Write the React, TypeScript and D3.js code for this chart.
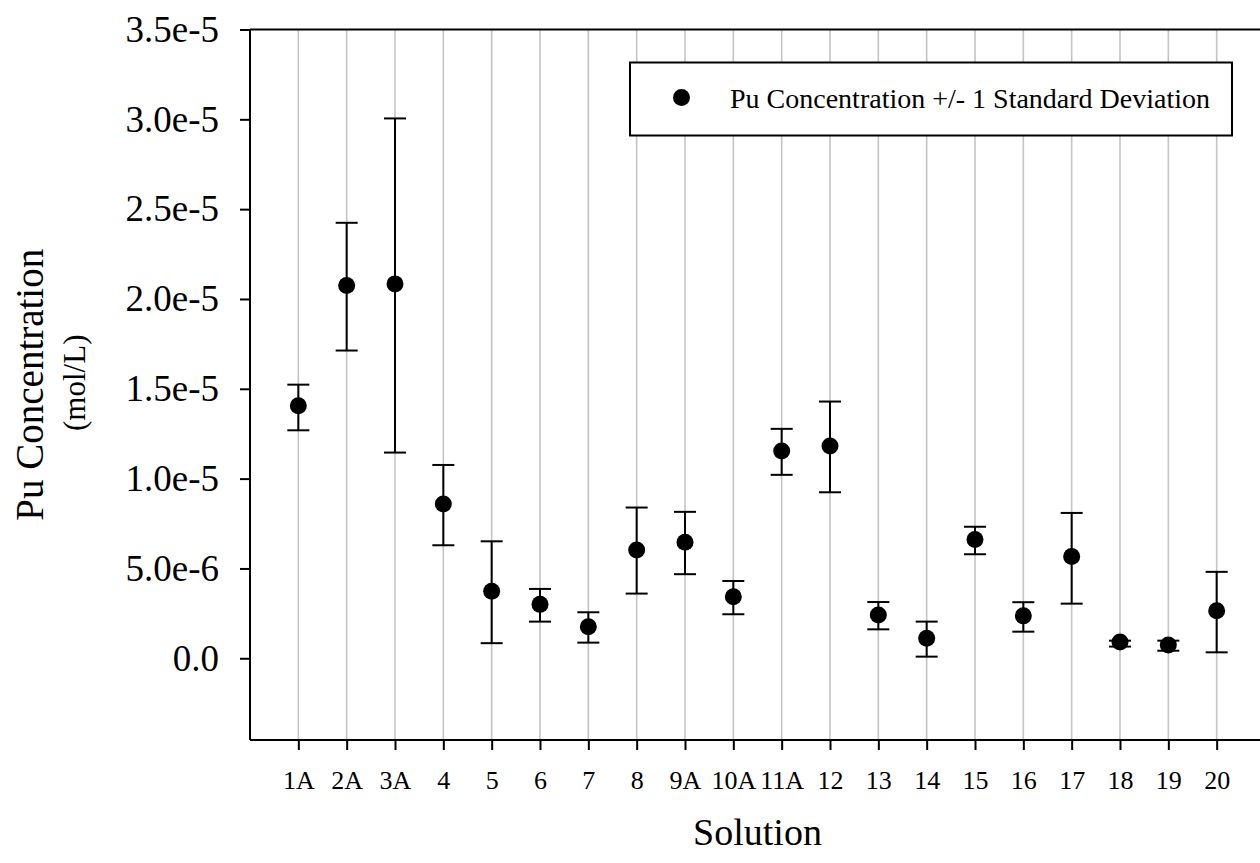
import { useEffect, useRef } from "react";
import * as d3 from "d3";

const categories = ["1A", "2A", "3A", "4", "5", "6", "7", "8", "9A", "10A", "11A", "12", "13", "14", "15", "16", "17", "18", "19", "20"];
// mol/L
const concentration = [14.05e-6, 20.75e-6, 20.84e-6, 8.59e-6, 3.73e-6, 3.0e-6, 1.76e-6, 6.03e-6, 6.46e-6, 3.43e-6, 11.54e-6, 11.82e-6, 2.41e-6, 1.11e-6, 6.61e-6, 2.36e-6, 5.66e-6, 0.91e-6, 0.74e-6, 2.65e-6];
const upperBound = [15.23e-6, 24.24e-6, 30.05e-6, 10.76e-6, 6.51e-6, 3.86e-6, 2.56e-6, 8.39e-6, 8.15e-6, 4.3e-6, 12.77e-6, 14.29e-6, 3.13e-6, 2.04e-6, 7.32e-6, 3.12e-6, 8.09e-6, 0.98e-6, 0.98e-6, 4.81e-6];
const lowerBound = [12.69e-6, 17.13e-6, 11.45e-6, 6.29e-6, 0.84e-6, 2.04e-6, 0.87e-6, 3.6e-6, 4.68e-6, 2.45e-6, 10.21e-6, 9.24e-6, 1.61e-6, 0.09e-6, 5.79e-6, 1.48e-6, 3.04e-6, 0.65e-6, 0.42e-6, 0.33e-6];
const yTicks = [0, 5e-6, 1e-5, 1.5e-5, 2e-5, 2.5e-5, 3e-5, 3.5e-5];

const W = 1260;
const H = 863;
const FONT = "'Liberation Serif', 'Times New Roman', serif";

export default function App() {
  const svgRef = useRef<SVGSVGElement>(null);

  useEffect(() => {
    if (!svgRef.current) return;
    const svg = d3.select(svgRef.current);
    svg.selectAll("*").remove();

    const left = 250;
    const right = 1265;
    const top = 29.5;
    const bottom = 740;

    const x = d3.scaleLinear().domain([0, categories.length + 1]).range([left, right]);
    const y = d3.scaleLinear().domain([-4.55e-6, 3.5e-5]).range([bottom, top]);
    const cx = (i: number) => x(i + 1);

    // grid lines
    svg
      .append("g")
      .selectAll("line")
      .data(categories)
      .enter()
      .append("line")
      .attr("x1", (_d, i) => cx(i))
      .attr("x2", (_d, i) => cx(i))
      .attr("y1", top)
      .attr("y2", bottom)
      .attr("stroke", "#c4c4c4")
      .attr("stroke-width", 1.6);

    // top frame line
    svg
      .append("line")
      .attr("x1", left)
      .attr("x2", right)
      .attr("y1", top)
      .attr("y2", top)
      .attr("stroke", "#000")
      .attr("stroke-width", 2);

    // y axis
    const fmt = d3.format(".1e");
    const yAxis = svg
      .append("g")
      .attr("transform", `translate(${left},0)`)
      .call(
        d3
          .axisLeft(y)
          .tickValues(yTicks)
          .tickSize(10)
          .tickPadding(21)
          .tickFormat((d) => ((d as number) === 0 ? "0.0" : fmt(d as number))),
      );
    yAxis.select(".domain").attr("d", `M0,${top}V${bottom}`).attr("stroke-width", 2);
    yAxis.selectAll(".tick line").attr("stroke-width", 2);
    yAxis
      .selectAll("text")
      .attr("font-family", FONT)
      .attr("font-size", 37)
      .attr("fill", "#000");

    // x axis
    const xAxis = svg
      .append("g")
      .attr("transform", `translate(0,${bottom})`)
      .call(
        d3
          .axisBottom(x)
          .tickValues(categories.map((_d, i) => i + 1))
          .tickSize(10)
          .tickPadding(21)
          .tickFormat((d) => categories[(d as number) - 1]),
      );
    xAxis.select(".domain").attr("d", `M${left},0H${right}`).attr("stroke-width", 2);
    xAxis.selectAll(".tick line").attr("stroke-width", 2);
    xAxis
      .selectAll("text")
      .attr("font-family", FONT)
      .attr("font-size", 26)
      .attr("fill", "#000");

    // error bars
    const bars = svg
      .append("g")
      .selectAll("g")
      .data(categories)
      .enter()
      .append("g");
    bars
      .append("line")
      .attr("x1", (_d, i) => cx(i))
      .attr("x2", (_d, i) => cx(i))
      .attr("y1", (_d, i) => y(upperBound[i]))
      .attr("y2", (_d, i) => y(lowerBound[i]))
      .attr("stroke", "#000")
      .attr("stroke-width", 2);
    [upperBound, lowerBound].forEach((arr) => {
      bars
        .append("line")
        .attr("x1", (_d, i) => cx(i) - 11)
        .attr("x2", (_d, i) => cx(i) + 11)
        .attr("y1", (_d, i) => y(arr[i]))
        .attr("y2", (_d, i) => y(arr[i]))
        .attr("stroke", "#000")
        .attr("stroke-width", 2);
    });
    bars
      .append("circle")
      .attr("cx", (_d, i) => cx(i))
      .attr("cy", (_d, i) => y(concentration[i]))
      .attr("r", 8.5)
      .attr("fill", "#000");

    // legend
    const legend = svg.append("g");
    legend
      .append("rect")
      .attr("x", 630)
      .attr("y", 62.5)
      .attr("width", 602)
      .attr("height", 73)
      .attr("fill", "#fff")
      .attr("stroke", "#000")
      .attr("stroke-width", 2);
    legend
      .append("circle")
      .attr("cx", 681.5)
      .attr("cy", 97.5)
      .attr("r", 8.5)
      .attr("fill", "#000");
    legend
      .append("text")
      .attr("x", 730)
      .attr("y", 107.5)
      .attr("font-family", FONT)
      .attr("font-size", 28)
      .text("Pu Concentration +/- 1 Standard Deviation");

    // axis titles
    svg
      .append("text")
      .attr("x", (left + right) / 2)
      .attr("y", 845)
      .attr("text-anchor", "middle")
      .attr("font-family", FONT)
      .attr("font-size", 38)
      .text("Solution");
    svg
      .append("text")
      .attr("transform", `translate(43,${(top + bottom) / 2}) rotate(-90)`)
      .attr("text-anchor", "middle")
      .attr("font-family", FONT)
      .attr("font-size", 39)
      .text("Pu Concentration");
    svg
      .append("text")
      .attr("transform", `translate(85,${(top + bottom) / 2 - 2}) rotate(-90)`)
      .attr("text-anchor", "middle")
      .attr("font-family", FONT)
      .attr("font-size", 31)
      .text("(mol/L)");
  }, []);

  return (
    <div style={{ position: "absolute", left: 0, top: 0, width: W, height: H, overflow: "hidden", background: "#fff" }}>
      <svg ref={svgRef} width={W} height={H} style={{ display: "block" }} />
    </div>
  );
}
